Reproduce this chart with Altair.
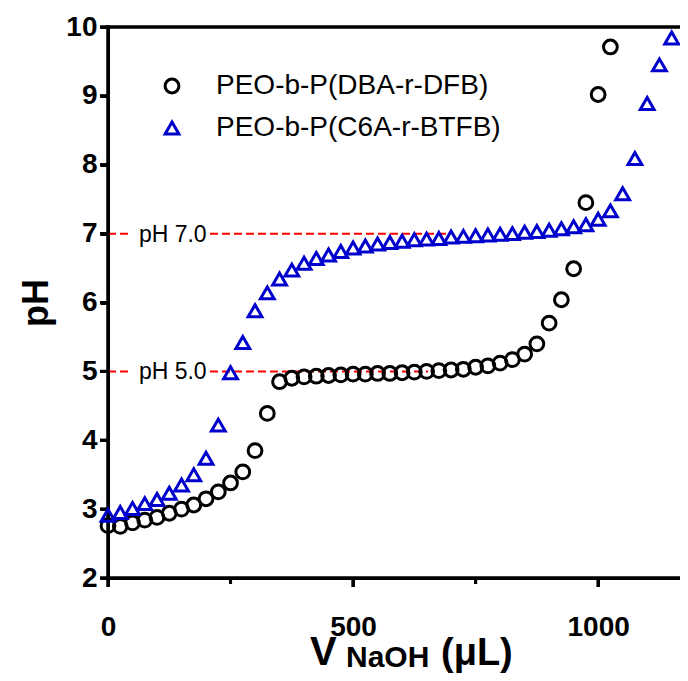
import altair as alt
import pandas as pd

# ---------------- data ----------------
series_names = ["PEO-b-P(DBA-r-DFB)", "PEO-b-P(C6A-r-BTFB)"]

vol_dba = [0, 25, 50, 75, 100, 125, 150, 175, 200, 225, 250, 275, 300, 325, 350,
           375, 400, 425, 450, 475, 500, 525, 550, 575, 600, 625, 650, 675, 700,
           725, 750, 775, 800, 825, 850, 875, 900, 925, 950, 975, 1000, 1025]
ph_dba = [2.76, 2.75, 2.80, 2.84, 2.88, 2.94, 3.00, 3.06, 3.15, 3.25, 3.38, 3.54,
          3.85, 4.39, 4.85, 4.90, 4.92, 4.93, 4.94, 4.95, 4.96, 4.96, 4.97, 4.97,
          4.98, 4.99, 5.00, 5.01, 5.02, 5.03, 5.06, 5.08, 5.12, 5.17, 5.25, 5.40,
          5.70, 6.04, 6.49, 7.45, 9.02, 9.71]

vol_c6a = [0, 25, 50, 75, 100, 125, 150, 175, 200, 225, 250, 275, 300, 325, 350,
           375, 400, 425, 450, 475, 500, 525, 550, 575, 600, 625, 650, 675, 700,
           725, 750, 775, 800, 825, 850, 875, 900, 925, 950, 975, 1000, 1025, 1050,
           1075, 1100, 1125, 1150]
ph_c6a = [2.91, 2.95, 3.01, 3.08, 3.14, 3.23, 3.35, 3.50, 3.74, 4.22, 4.98, 5.42,
          5.88, 6.14, 6.34, 6.47, 6.57, 6.64, 6.69, 6.74, 6.79, 6.82, 6.85, 6.87,
          6.89, 6.91, 6.92, 6.93, 6.95, 6.96, 6.97, 6.98, 6.99, 7.00, 7.02, 7.03,
          7.05, 7.07, 7.10, 7.13, 7.21, 7.33, 7.58, 8.09, 8.89, 9.45, 9.84]

ref_ph = [7.0, 5.0]
ref_labels = ["pH 7.0", "pH 5.0"]
ref_left_end = [49, 49]        # dashes before the label
ref_right_start = [208, 208]   # dashes after the label
ref_end = [694, 653]
ref_label_x = [63, 63]

x_major = [0, 500, 1000]
x_minor = [250, 750]
y_ticks = [2, 3, 4, 5, 6, 7, 8, 9, 10]
x_min, x_max = 0, 1167
y_min, y_max = 2, 10

# ---------------- layout constants ----------------
FONT = "Liberation Sans"
BLACK = "#000000"
RED = "#ff0000"
W, H = 572, 551
PX = (x_max - x_min) / W      # data units per pixel, x
PY = (y_max - y_min) / H      # data units per pixel, y

# ---------------- tables ----------------
df = pd.concat([
    pd.DataFrame({"vol": vol_dba, "ph": ph_dba, "series": series_names[0]}),
    pd.DataFrame({"vol": vol_c6a, "ph": ph_c6a, "series": series_names[1]}),
], ignore_index=True)

# reference dashes
seg = []
for p, a, b, e in zip(ref_ph, ref_left_end, ref_right_start, ref_end):
    seg.append(dict(x=x_min, x2=a, y=p))
    seg.append(dict(x=b, x2=e, y=p))
df_seg = pd.DataFrame(seg)

# frame, axis lines and ticks as straight segments
rows = []
rows.append(dict(x=x_min, x2=x_min, y=y_min - 1.5 * PY, y2=y_max + 1.5 * PY))
rows.append(dict(x=x_min - 1.5 * PX, x2=x_max, y=y_min, y2=y_min))
rows.append(dict(x=x_min - 1.5 * PX, x2=x_max, y=y_max, y2=y_max))
for t in y_ticks:
    rows.append(dict(x=x_min, x2=x_min - 8 * PX, y=t, y2=t))
for t in x_major:
    rows.append(dict(x=t, x2=t, y=y_min, y2=y_min - 9 * PY))
for t in x_minor:
    rows.append(dict(x=t, x2=t, y=y_min, y2=y_min - 6 * PY))
df_frame = pd.DataFrame(rows)
# the same segments as line symbols (centre, pixel length, angle)
sym = []
for r in rows:
    lx = abs(r["x2"] - r["x"]) / PX
    ly = abs(r["y2"] - r["y"]) / PY
    sym.append(dict(cx=(r["x"] + r["x2"]) / 2, cy=(r["y"] + r["y2"]) / 2,
                    s=max(lx, ly) ** 2, a=0 if lx >= ly else 90))
df_sym = pd.DataFrame(sym)

df_lab = pd.DataFrame({"ph": ref_ph, "vol": ref_label_x, "label": ref_labels})

x_scale = alt.Scale(domain=[x_min, x_max], nice=False, zero=False)
y_scale = alt.Scale(domain=[y_min, y_max], nice=False, zero=False)

x_axis = alt.Axis(values=x_major, format="d", labelPadding=27, title=None)
y_axis = alt.Axis(values=y_ticks, format="d", labelPadding=3, title="pH", titlePadding=10)
XF = lambda f: alt.X(f, scale=x_scale, title=None, axis=x_axis)
YF = lambda f: alt.Y(f, scale=y_scale, title="pH", axis=y_axis)

legend = alt.Legend(
    title=None, orient="none", legendX=50, legendY=45,
    symbolSize=190, symbolStrokeWidth=3, labelFont=FONT, labelFontSize=28,
    labelColor=BLACK, labelOffset=30, rowPadding=14, padding=0, labelLimit=0,
)

dashes = alt.Chart(df_seg).mark_rule(color=RED, strokeWidth=2, strokeDash=[8, 4]).encode(
    x=XF("x:Q"), x2="x2:Q", y=YF("y:Q"),
)

frame = alt.Chart(df_frame).mark_rule(color=BLACK, strokeWidth=3).encode(
    x=XF("x:Q"), x2="x2:Q", y=YF("y:Q"), y2="y2:Q",
)

frame_sym = alt.Chart(df_sym).mark_point(shape="stroke", filled=False, color=BLACK,
                                         strokeWidth=3, opacity=1).encode(
    x=XF("cx:Q"), y=YF("cy:Q"),
    size=alt.Size("s:Q", scale=None, legend=None),
    angle=alt.Angle("a:Q", scale=None, legend=None),
)

labels = alt.Chart(df_lab).mark_text(align="left", baseline="middle", font=FONT,
                                     fontSize=23, color=BLACK, dy=1).encode(
    x=XF("vol:Q"), y=YF("ph:Q"), text="label:N",
)

points = alt.Chart(df).mark_point(filled=False, size=190, strokeWidth=3, opacity=1).encode(
    x=XF("vol:Q"), y=YF("ph:Q"),
    shape=alt.Shape("series:N", sort=series_names,
                    scale=alt.Scale(domain=series_names, range=["circle", "triangle-up"]),
                    legend=legend),
    color=alt.Color("series:N", sort=series_names,
                    scale=alt.Scale(domain=series_names, range=[BLACK, "#0000cc"]),
                    legend=legend),
)

t_v = alt.Chart(pd.DataFrame({"t": ["V"]})).mark_text(
    align="left", baseline="alphabetic", font=FONT, fontWeight="bold", fontSize=40,
    color=BLACK).encode(x=alt.value(202), y=alt.value(H + 87), text="t:N")
t_sub = alt.Chart(pd.DataFrame({"t": ["NaOH"]})).mark_text(
    align="left", baseline="alphabetic", font=FONT, fontWeight="bold", fontSize=30,
    color=BLACK).encode(x=alt.value(238), y=alt.value(H + 89), text="t:N")
t_unit = alt.Chart(pd.DataFrame({"t": ["(μL)"]})).mark_text(
    align="left", baseline="alphabetic", font=FONT, fontWeight="bold", fontSize=38,
    color=BLACK).encode(x=alt.value(333), y=alt.value(H + 87), text="t:N")

chart = alt.layer(dashes, frame, frame_sym, labels, points, t_v, t_sub, t_unit).properties(
    width=W, height=H,
    padding={"left": 100, "top": 19, "right": 0, "bottom": 95},
    autosize=alt.AutoSizeParams(type="none"),
).configure_view(
    strokeWidth=0
).configure_axis(
    grid=False, domain=True, ticks=True, tickSize=8, tickWidth=3, tickColor=BLACK,
    domainWidth=3, domainColor=BLACK,
    labelFont=FONT, labelFontWeight="bold", labelFontSize=28, labelColor=BLACK,
    labelFlush=False,
    titleFont=FONT, titleFontWeight="bold", titleFontSize=36, titleColor=BLACK,
)

chart.save("out.html", embed_options={"renderer": "svg", "actions": False})
